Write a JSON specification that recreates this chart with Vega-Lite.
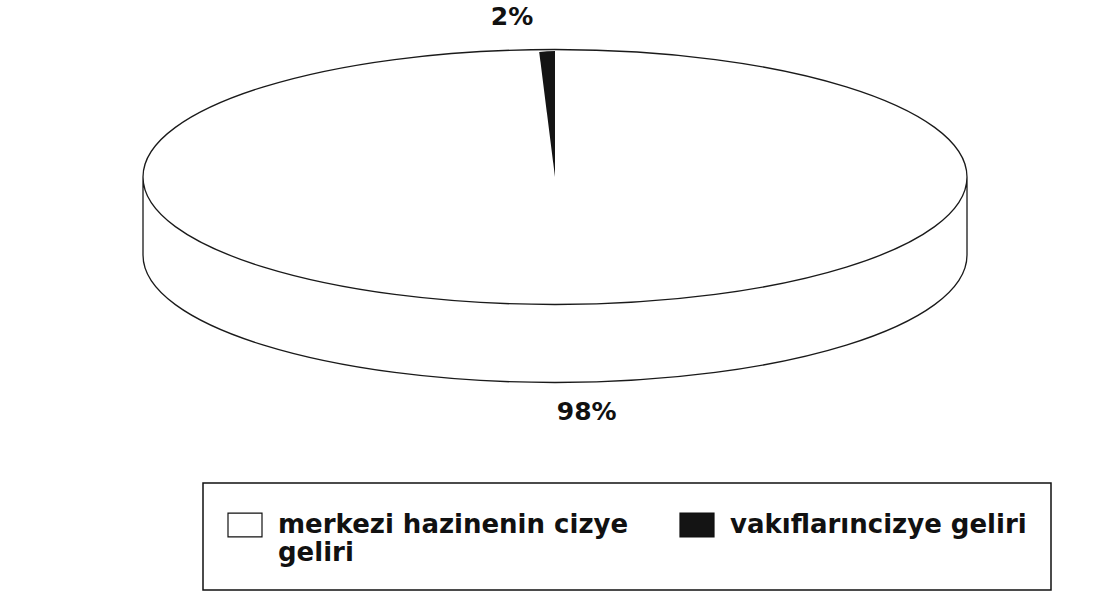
{
  "$schema": "https://vega.github.io/schema/vega-lite/v6.json",
  "width": 1110,
  "height": 354,
  "autosize": {"type": "none"},
  "padding": {"left": 0, "top": 0, "right": 10, "bottom": 238},
  "background": "white",
  "config": {"view": {"stroke": null}},
  "data": {
    "values": [
      {"kategori": "merkezi hazinenin cizye geliri", "value": 0.98},
      {"kategori": "vakıflarıncizye geliri", "value": 0.02}
    ]
  },
  "layer": [
    {
      "data": {"values": [{"parca": "govde"}]},
      "mark": {
        "type": "point",
        "shape": "M-4.12 0 A4.12 1.275 0 1 1 4.12 0 A4.12 1.275 0 1 1 -4.12 0 Z M-4.12 0 L-4.12 0.78 A4.12 1.275 0 0 0 4.12 0.78 L4.12 0",
        "size": 40000,
        "filled": true,
        "fill": "white",
        "stroke": "#1a1a1a",
        "strokeWidth": 1.3,
        "opacity": 1
      },
      "encoding": {}
    },
    {
      "mark": {"type": "arc", "radius": 126, "stroke": null},
      "encoding": {
        "theta": {"field": "value", "type": "quantitative", "stack": true},
        "order": {"field": "value", "sort": "descending"},
        "color": {
          "field": "kategori",
          "type": "nominal",
          "scale": {
            "domain": ["merkezi hazinenin cizye geliri", "vakıflarıncizye geliri"],
            "range": ["white", "#141414"]
          },
          "legend": {
            "title": null,
            "orient": "none",
            "legendX": 203,
            "legendY": 483,
            "direction": "horizontal",
            "columns": 2,
            "columnPadding": 48,
            "padding": 24,
            "strokeColor": "#111",
            "fillColor": "white",
            "symbolType": "M-1 -0.7 L1 -0.7 L1 0.7 L-1 0.7 Z",
            "symbolSize": 1156,
            "symbolStrokeColor": "#111",
            "symbolStrokeWidth": 1.2,
            "symbolOpacity": 1,
            "labelFont": "DejaVu Sans",
            "labelFontSize": 26,
            "labelFontWeight": "bold",
            "labelColor": "#111",
            "labelLimit": 600,
            "labelOffset": 15,
            "labelExpr": "datum.label == 'merkezi hazinenin cizye geliri' ? ['merkezi hazinenin cizye', 'geliri'] : [datum.label, '']",
            "encode": {"legend": {"update": {"strokeWidth": {"value": 1.5}, "width": {"value": 915}}}}
          }
        }
      }
    },
    {
      "mark": {"type": "text", "radius": 160, "dx": -33, "font": "DejaVu Sans", "fontSize": 25, "fontWeight": "bold", "color": "#111"},
      "encoding": {
        "theta": {"field": "value", "type": "quantitative", "stack": true},
        "order": {"field": "value", "sort": "descending"},
        "text": {
          "condition": {"test": "datum.value < 0.5", "field": "value", "type": "quantitative", "format": ".0%"},
          "value": ""
        }
      }
    },
    {
      "mark": {"type": "text", "radius": 235, "dx": 17, "font": "DejaVu Sans", "fontSize": 25, "fontWeight": "bold", "color": "#111"},
      "encoding": {
        "theta": {"field": "value", "type": "quantitative", "stack": true},
        "order": {"field": "value", "sort": "descending"},
        "text": {
          "condition": {"test": "datum.value >= 0.5", "field": "value", "type": "quantitative", "format": ".0%"},
          "value": ""
        }
      }
    }
  ]
}
